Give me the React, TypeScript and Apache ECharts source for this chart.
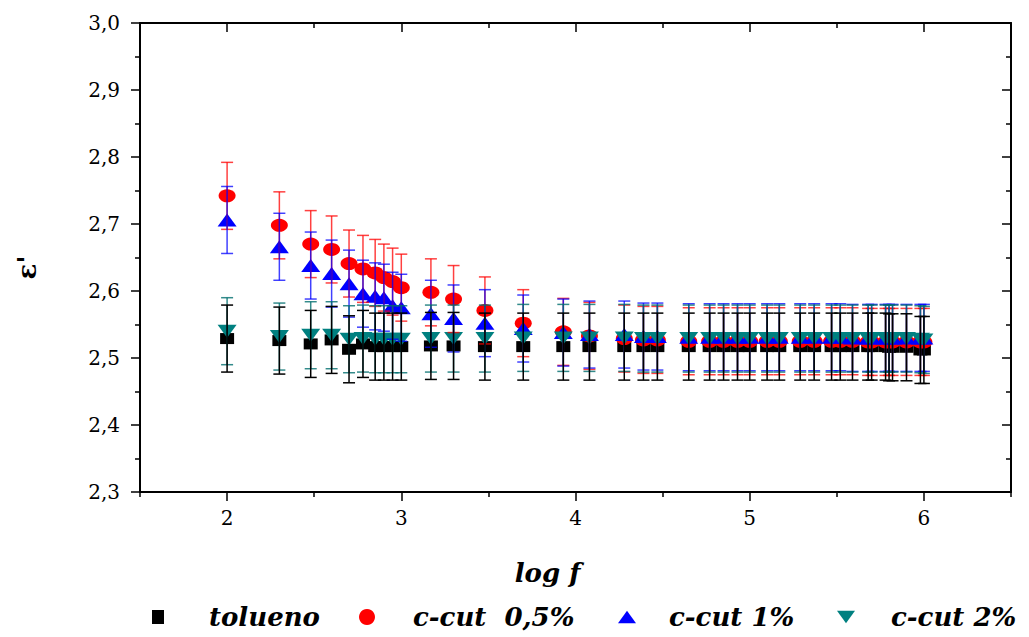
import React, { useEffect, useRef } from "react";
import * as echarts from "echarts";

// log f values (x)
const LOG_F = [
  2.0, 2.3, 2.48, 2.6, 2.7, 2.78, 2.85, 2.9, 2.95, 3.0, 3.17, 3.3, 3.48, 3.7,
  3.93, 4.08, 4.28, 4.39, 4.47, 4.65, 4.77, 4.85, 4.93, 5.0, 5.1, 5.17, 5.29,
  5.37, 5.47, 5.52, 5.59, 5.68, 5.7, 5.78, 5.8, 5.82, 5.9, 5.98, 6.0,
];

const TOLUENO = [
  2.529, 2.526, 2.521, 2.527, 2.513, 2.521, 2.517, 2.517, 2.517, 2.517, 2.518,
  2.518, 2.517, 2.517, 2.517, 2.517, 2.517, 2.517, 2.517, 2.517, 2.517, 2.517,
  2.517, 2.517, 2.517, 2.517, 2.517, 2.517, 2.517, 2.517, 2.517, 2.517, 2.517,
  2.517, 2.516, 2.516, 2.516, 2.512, 2.512,
];

const CCUT_05 = [
  2.742, 2.698, 2.67, 2.662, 2.641, 2.633, 2.627, 2.62, 2.614, 2.605, 2.598,
  2.588, 2.571, 2.552, 2.539, 2.533, 2.529, 2.527, 2.527, 2.525, 2.525, 2.525,
  2.525, 2.525, 2.525, 2.525, 2.525, 2.525, 2.525, 2.525, 2.525, 2.524, 2.524,
  2.524, 2.524, 2.524, 2.524, 2.524, 2.524,
];

const CCUT_1 = [
  2.706, 2.666, 2.638, 2.626, 2.611, 2.596, 2.592, 2.59, 2.578, 2.575, 2.566,
  2.559, 2.552, 2.544, 2.538, 2.535, 2.535, 2.532, 2.532, 2.531, 2.531, 2.531,
  2.531, 2.531, 2.531, 2.531, 2.531, 2.531, 2.531, 2.531, 2.53, 2.53, 2.53,
  2.53, 2.53, 2.53, 2.53, 2.53, 2.53,
];

const CCUT_2 = [
  2.54, 2.532, 2.534, 2.534, 2.528, 2.529, 2.528, 2.528, 2.528, 2.528, 2.529,
  2.529, 2.529, 2.53, 2.53, 2.53, 2.53, 2.529, 2.529, 2.529, 2.529, 2.529,
  2.529, 2.529, 2.529, 2.529, 2.529, 2.529, 2.529, 2.529, 2.529, 2.529, 2.529,
  2.529, 2.529, 2.529, 2.529, 2.528, 2.527,
];

// error bar half-widths (read from the caps)
const ERR_TOLUENO = 0.05;
const ERR_CCUT_05 = 0.05;
const ERR_CCUT_1 = 0.05;
const ERR_CCUT_2 = 0.05;

const X_MAJOR = [2, 3, 4, 5, 6];
const X_MINOR = [1.5, 2.5, 3.5, 4.5, 5.5, 6.5];

const NAMES = ["tolueno", "c-cut  0,5%", "c-cut 1%", "c-cut 2%"];

const DOWN_TRI = "path://M0,0L20,0L10,14Z";
const UP_TRI = "path://M10,0L20,14L0,14Z";

export default function App() {
  const ref = useRef<HTMLDivElement>(null);

  useEffect(() => {
    if (!ref.current) return;
    const chart = echarts.init(ref.current, null, { renderer: "svg" });

    const pts = (ys: number[]) => LOG_F.map((x, i) => [x, ys[i]]);
    const errPts = (ys: number[], e: number) =>
      LOG_F.map((x, i) => [x, ys[i], e]);

    const errSeries = (name: string, ys: number[], e: number, color: string, z: number) => ({
      type: "custom",
      name,
      z,
      silent: true,
      data: errPts(ys, e),
      renderItem: (params: any, api: any) => {
        const x = api.value(0);
        const y = api.value(1);
        const err = api.value(2);
        const top = api.coord([x, y + err]);
        const bot = api.coord([x, y - err]);
        const style = { stroke: color, lineWidth: 1.5 };
        const cap = 6;
        return {
          type: "group",
          children: [
            { type: "line", shape: { x1: top[0], y1: top[1], x2: bot[0], y2: bot[1] }, style },
            { type: "line", shape: { x1: top[0] - cap, y1: top[1], x2: top[0] + cap, y2: top[1] }, style },
            { type: "line", shape: { x1: bot[0] - cap, y1: bot[1], x2: bot[0] + cap, y2: bot[1] }, style },
          ],
        };
      },
    });

    const font = "'DejaVu Serif', serif";
    const axisLine = { show: true, lineStyle: { color: "#000", width: 2 } };
    const tickStyle = { color: "#000", width: 1.5 };

    const xBase = {
      type: "value",
      min: 1.5,
      max: 6.5,
      splitLine: { show: false },
    };

    const legendText = {
      color: "#000",
      fontFamily: font,
      fontWeight: "bold",
      fontStyle: "italic",
      fontSize: 26,
    };

    const mkLegend = (name: string, icon: string, left: number, w: number, h: number, pad: number) => ({
      data: [{ name, icon }],
      left,
      top: 599,
      itemWidth: w,
      itemHeight: h,
      selectedMode: false,
      textStyle: { ...legendText, padding: [0, 0, 0, pad] },
    });

    chart.setOption({
      animation: false,
      backgroundColor: "#fff",
      grid: { left: 140, top: 23, width: 871, height: 469, containLabel: false },
      legend: [
        mkLegend(NAMES[0], "rect", 147, 12, 14, 40),
        mkLegend(NAMES[1], "circle", 354, 16, 16, 33),
        mkLegend(NAMES[2], UP_TRI, 613, 18, 13, 28),
        mkLegend(NAMES[3], DOWN_TRI, 832, 18, 13, 31),
      ],
      xAxis: [
        {
          ...xBase,
          position: "bottom",
          name: "log f",
          nameLocation: "middle",
          nameGap: 68,
          nameTextStyle: { ...legendText, fontSize: 26, padding: [0, 56, 0, 0] },
          axisLine,
          axisTick: { show: true, customValues: X_MAJOR, length: 9, lineStyle: tickStyle },
          axisLabel: {
            customValues: X_MAJOR,
            margin: 16,
            color: "#000",
            fontFamily: font,
            fontSize: 20,
            formatter: (v: number) => String(v),
          },
        },
        {
          ...xBase,
          position: "bottom",
          axisLine: { show: false },
          axisTick: { show: true, customValues: X_MINOR, length: 5, lineStyle: tickStyle },
          axisLabel: { show: false },
        },
        {
          ...xBase,
          position: "top",
          axisLine,
          axisTick: { show: true, inside: true, customValues: X_MAJOR, length: 9, lineStyle: tickStyle },
          axisLabel: { show: false },
        },
        {
          ...xBase,
          position: "top",
          axisLine: { show: false },
          axisTick: { show: true, inside: true, customValues: X_MINOR, length: 5, lineStyle: tickStyle },
          axisLabel: { show: false },
        },
      ],
      yAxis: [
        {
          type: "value",
          position: "left",
          min: 2.3,
          max: 3.0,
          interval: 0.1,
          name: "ε'",
          nameLocation: "middle",
          nameGap: 100,
          nameRotate: 90,
          nameTextStyle: {
            color: "#000",
            fontFamily: font,
            fontWeight: "bold",
            fontSize: 26,
            padding: [0, 20, 0, 0],
          },
          splitLine: { show: false },
          axisLine,
          axisTick: { show: true, length: 9, lineStyle: tickStyle },
          minorTick: { show: true, splitNumber: 2, length: 5, lineStyle: tickStyle },
          axisLabel: {
            margin: 20,
            color: "#000",
            fontFamily: font,
            fontSize: 20,
            formatter: (v: number) => v.toFixed(1).replace(".", ","),
          },
        },
        {
          type: "value",
          position: "right",
          min: 2.3,
          max: 3.0,
          interval: 0.1,
          splitLine: { show: false },
          axisLine,
          axisTick: { show: true, inside: true, length: 9, lineStyle: tickStyle },
          minorTick: { show: true, splitNumber: 2, length: 5, lineStyle: tickStyle },
          axisLabel: { show: false },
        },
      ],
      series: [
        {
          type: "scatter",
          name: NAMES[0],
          data: pts(TOLUENO),
          symbol: "rect",
          symbolSize: [14, 11],
          itemStyle: { color: "#000", opacity: 1 },
          z: 2,
        },
        {
          type: "scatter",
          name: NAMES[1],
          data: pts(CCUT_05),
          symbol: "circle",
          symbolSize: [17, 13],
          itemStyle: { color: "#ff0000", opacity: 1 },
          z: 2,
        },
        {
          type: "scatter",
          name: NAMES[2],
          data: pts(CCUT_1),
          symbol: UP_TRI,
          symbolSize: [19, 13],
          symbolKeepAspect: false,
          itemStyle: { color: "#0000ff", opacity: 1 },
          z: 2,
        },
        {
          type: "scatter",
          name: NAMES[3],
          data: pts(CCUT_2),
          symbol: DOWN_TRI,
          symbolSize: [19, 13],
          symbolKeepAspect: false,
          itemStyle: { color: "#008080", opacity: 1 },
          z: 2,
        },
        errSeries("err-ccut05", CCUT_05, ERR_CCUT_05, "rgba(255,0,0,0.75)", 3),
        errSeries("err-ccut1", CCUT_1, ERR_CCUT_1, "rgba(0,0,255,0.75)", 3),
        errSeries("err-ccut2", CCUT_2, ERR_CCUT_2, "rgba(0,110,110,0.8)", 3),
        errSeries("err-tolueno", TOLUENO, ERR_TOLUENO, "#000", 3),
      ],
    });

    return () => chart.dispose();
  }, []);

  return (
    <div
      ref={ref}
      style={{ position: "absolute", left: 0, top: 0, width: 1029, height: 637, background: "#fff" }}
    />
  );
}
